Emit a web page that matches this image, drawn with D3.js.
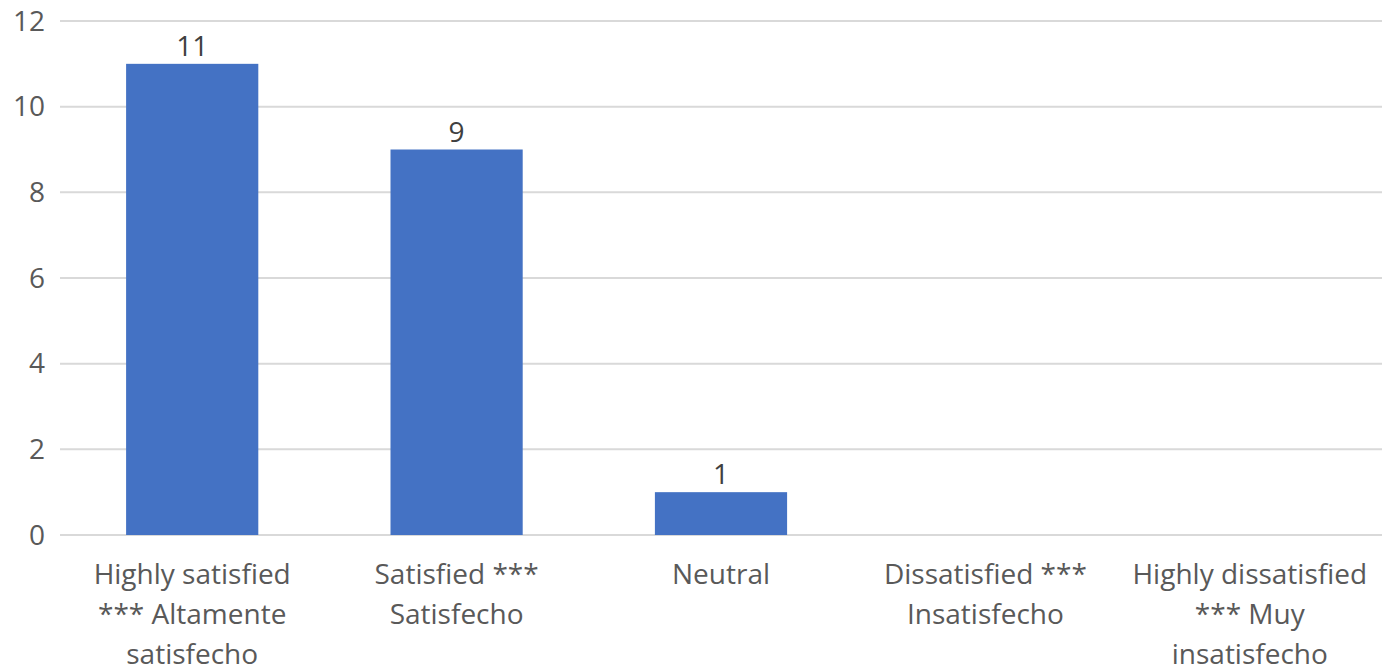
<!DOCTYPE html>
<html>
<head>
<meta charset="utf-8">
<script src="https://cdn.jsdelivr.net/npm/d3@7"></script>
<style>
  body { margin: 0; background: #fff; }
  text { font-family: "Open Sans", sans-serif; }
</style>
</head>
<body>
<div id="chart"></div>
<script>
var w = 1386;
var h = 671;

var categories = ['Highly satisfied *** Altamente satisfecho',
	'Satisfied *** Satisfecho',
	'Neutral',
	'Dissatisfied *** Insatisfecho',
	'Highly dissatisfied *** Muy insatisfecho'];
var values = [11, 9, 1, 0, 0];
var yTicks = [0, 2, 4, 6, 8, 10, 12];

var margin = {top: 21, right: 4, bottom: 136, left: 60};

var svg = d3.select("#chart")
	.append("svg")
	.attr("width", w)
	.attr("height", h);

var x = d3.scaleBand()
	.domain(categories)
	.range([margin.left, w - margin.right])
	.paddingInner(0.5)
	.paddingOuter(0.25);

var y = d3.scaleLinear()
	.domain([0, 12])
	.range([h - margin.bottom, margin.top]);

// gridlines
svg.append("g")
	.selectAll("line")
	.data(yTicks)
	.enter()
	.append("line")
	.attr("x1", margin.left)
	.attr("x2", w - margin.right)
	.attr("y1", function(d) { return y(d); })
	.attr("y2", function(d) { return y(d); })
	.style("stroke", "#d9d9d9")
	.style("stroke-width", "2px");

// y tick labels
svg.append("g")
	.selectAll("text")
	.data(yTicks)
	.enter()
	.append("text")
	.attr("x", 45)
	.attr("y", function(d) { return y(d); })
	.attr("dy", "0.35em")
	.attr("text-anchor", "end")
	.style("font-size", "28px")
	.style("fill", "#595959")
	.text(function(d) { return d; });

// bars
svg.append("g")
	.selectAll("rect")
	.data(values)
	.enter()
	.append("rect")
	.attr("x", function(d, i) { return x(categories[i]); })
	.attr("width", x.bandwidth())
	.attr("y", function(d) { return y(d); })
	.attr("height", function(d) { return y(0) - y(d); })
	.style("fill", "#4472c4");

// data labels (skip zero values)
svg.append("g")
	.selectAll("text")
	.data(values.map(function(v, i) { return {cat: categories[i], v: v}; })
		.filter(function(d) { return d.v > 0; }))
	.enter()
	.append("text")
	.attr("x", function(d) { return x(d.cat) + x.bandwidth() / 2; })
	.attr("y", function(d) { return y(d.v) - 8; })
	.attr("text-anchor", "middle")
	.style("font-size", "28px")
	.style("fill", "#404040")
	.text(function(d) { return d.v; });

// category labels, wrapped
function wrap(textSel, width) {
	textSel.each(function() {
		var t = d3.select(this);
		var words = t.text().split(/\s+/);
		var cx = t.attr("x");
		t.text(null);
		var line = [];
		var tspan = t.append("tspan").attr("x", cx).attr("dy", 0);
		words.forEach(function(word) {
			line.push(word);
			tspan.text(line.join(" "));
			if (tspan.node().getComputedTextLength() > width && line.length > 1) {
				line.pop();
				tspan.text(line.join(" "));
				line = [word];
				tspan = t.append("tspan").attr("x", cx).attr("dy", 40).text(word);
			}
		});
	});
}

svg.append("g")
	.selectAll("text")
	.data(categories)
	.enter()
	.append("text")
	.attr("x", function(d) { return x(d) + x.bandwidth() / 2; })
	.attr("y", 584)
	.attr("text-anchor", "middle")
	.style("font-size", "28px")
	.style("fill", "#595959")
	.text(function(d) { return d; })
	.call(wrap, 240);
</script>
</body>
</html>
